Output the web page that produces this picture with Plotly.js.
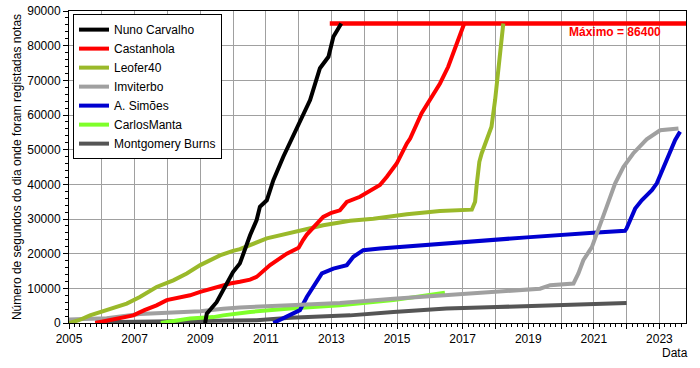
<!DOCTYPE html>
<html>
<head>
<meta charset="utf-8">
<script src="https://cdn.plot.ly/plotly-3.0.1.min.js"></script>
<style>html,body{margin:0;padding:0;background:#fff}#chart{width:700px;height:368px}</style>
</head>
<body>
<div id="chart"></div>
<script>
// ---- data (x in decimal years, y in seconds) ----
const seriesNames = ["Nuno Carvalho","Castanhola","Leofer40","Imviterbo","A. Simões","CarlosManta","Montgomery Burns"];
const seriesColors = ["#000000","#ff0000","#9ab92a","#a0a0a0","#0000d0","#7fff2a","#555555"];

const nunoX = [2009.15,2009.2,2009.5,2009.7,2009.81,2010.0,2010.21,2010.42,2010.52,2010.72,2010.82,2011.03,2011.23,2011.53,2011.79,2012.09,2012.35,2012.65,2012.91,2013.06,2013.3];
const nunoY = [0,2700,6000,9400,11400,14700,17200,22900,25300,29700,33500,35400,41200,47900,53000,59500,64300,73500,76800,82600,86400];

const castX = [2005.8,2006.35,2006.96,2007.3,2007.67,2007.98,2008.38,2008.69,2009.0,2009.5,2009.91,2010.21,2010.52,2010.72,2011.13,2011.64,2012.0,2012.14,2012.25,2012.75,2013.0,2013.26,2013.47,2013.87,2014.48,2014.69,2014.99,2015.3,2015.4,2015.75,2016.31,2016.56,2016.82,2017.05];
const castY = [0,1000,2200,3700,5100,6600,7500,8000,9000,10400,11400,11900,12500,13300,16700,20000,21700,24000,25500,30600,31800,32500,34900,36400,39800,42200,46000,51800,53200,60500,69100,73900,80700,86400];

const leofX = [2005.0,2005.3,2005.64,2006.15,2006.76,2007.16,2007.67,2008.18,2008.59,2009.0,2009.6,2010.0,2010.21,2011.03,2012.04,2012.75,2013.57,2014.28,2015.3,2016.31,2017.28,2017.38,2017.43,2017.51,2017.58,2017.73,2017.88,2017.99,2018.09,2018.19,2018.24];
const leofY = [0,800,2200,3700,5600,7500,10400,12300,14300,16700,19500,20800,21300,24400,26800,28200,29500,30100,31400,32300,32700,35000,40000,46500,48900,53200,56600,64300,73900,83600,86400];

const imviX = [2005.0,2006.15,2007.16,2009.0,2009.7,2010.21,2011.74,2013.26,2014.89,2016.51,2018.04,2019.36,2019.67,2020.38,2020.53,2020.68,2020.94,2021.19,2021.39,2021.65,2021.9,2022.2,2022.61,2023.02,2023.58];
const imviY = [1000,1400,2600,3400,4100,4500,5100,5800,7000,8000,9000,9900,10900,11400,14300,18100,21900,28700,33500,40300,45000,48900,53000,55600,56100];

const simoX = [2011.23,2011.74,2012.04,2012.25,2012.55,2012.71,2013.06,2013.47,2013.67,2013.97,2014.48,2015.3,2016.31,2017.48,2018.95,2020.98,2021.95,2022.0,2022.26,2022.46,2022.77,2022.92,2023.22,2023.48,2023.63];
const simoY = [0,2200,3700,7500,12300,14300,15700,16700,19100,21000,21500,22100,22900,23900,24700,26000,26600,27300,33000,35400,38300,40300,47000,52800,55200];

const carlX = [2007.8,2008.38,2008.69,2009.4,2009.7,2010.52,2011.74,2013.26,2013.57,2014.89,2016.46];
const carlY = [0,1000,1300,1700,2200,3200,4200,5100,5400,6600,8700];

const montX = [2005.8,2008.69,2010.72,2011.74,2013.26,2013.57,2014.89,2016.51,2018.04,2018.95,2019.97,2021.9,2022.0];
const montY = [200,600,800,1500,1900,2200,3200,4200,4600,4900,5400,5800,5800];

const maxX = [2012.95, 2023.81];
const maxY = [86400, 86400];
const maxLabel = "Máximo = 86400";

const xTickYears = [2005,2006,2007,2008,2009,2010,2011,2012,2013,2014,2015,2016,2017,2018,2019,2020,2021,2022,2023];
const xTickText = xTickYears.map(y => (y % 2 === 1) ? String(y) : "");

// ---- traces ----
const xs = [nunoX, castX, leofX, imviX, simoX, carlX, montX];
const ys = [nunoY, castY, leofY, imviY, simoY, carlY, montY];

const traces = [{
  x: maxX, y: maxY, mode: "lines", showlegend: false, hoverinfo: "skip",
  line: {color: "#ff0000", width: 4.5}
}];
for (let i = seriesNames.length - 1; i >= 0; i--) {
  traces.push({
    x: xs[i], y: ys[i], name: seriesNames[i], mode: "lines",
    line: {color: seriesColors[i], width: 4}
  });
}

const layout = {
  width: 700, height: 368,
  margin: {l: 69, r: 14, t: 11, b: 45},
  paper_bgcolor: "white", plot_bgcolor: "white",
  font: {family: "Arial, 'Liberation Sans', sans-serif", size: 12, color: "#000"},
  showlegend: true,
  legend: {
    x: 0.0065, y: 0.99, xanchor: "left", yanchor: "top",
    bgcolor: "white", bordercolor: "black", borderwidth: 1,
    traceorder: "reversed", font: {size: 12}, itemwidth: 30
  },
  xaxis: {
    range: [2005, 2023.81],
    tickmode: "array", tickvals: xTickYears, ticktext: xTickText,
    ticks: "outside", ticklen: 5, tickcolor: "#000", tickwidth: 1,
    showline: true, linecolor: "#000", linewidth: 1, mirror: true,
    showgrid: true, gridcolor: "#a0a0a0", gridwidth: 1, zeroline: false,
    minor: {dtick: 1/6, tick0: 2005, ticks: "outside", ticklen: 3, tickcolor: "#000", showgrid: false},
    tickfont: {size: 12}
  },
  yaxis: {
    range: [0, 90000], dtick: 10000, tick0: 0, tickformat: "d",
    ticks: "outside", ticklen: 5, tickcolor: "#000", tickwidth: 1,
    showline: true, linecolor: "#000", linewidth: 1, mirror: true,
    showgrid: true, gridcolor: "#a0a0a0", gridwidth: 1, zeroline: false,
    minor: {dtick: 2000, ticks: "outside", ticklen: 3, tickcolor: "#000", showgrid: false},
    tickfont: {size: 12},
    title: {text: "Número de segundos do dia onde foram registadas notas", font: {size: 12}, standoff: 3}
  },
  annotations: [
    {x: 2021.65, y: 83900, xref: "x", yref: "y", text: "<b>" + maxLabel + "</b>", showarrow: false,
     font: {color: "#ff0000", size: 12}, xanchor: "center", yanchor: "middle"},
    {x: 1.0065, y: -0.097, xref: "paper", yref: "paper", text: "Data", showarrow: false,
     font: {size: 12}, xanchor: "right", yanchor: "middle"}
  ]
};

Plotly.newPlot("chart", traces, layout, {displayModeBar: false, staticPlot: true});
</script>
</body>
</html>
